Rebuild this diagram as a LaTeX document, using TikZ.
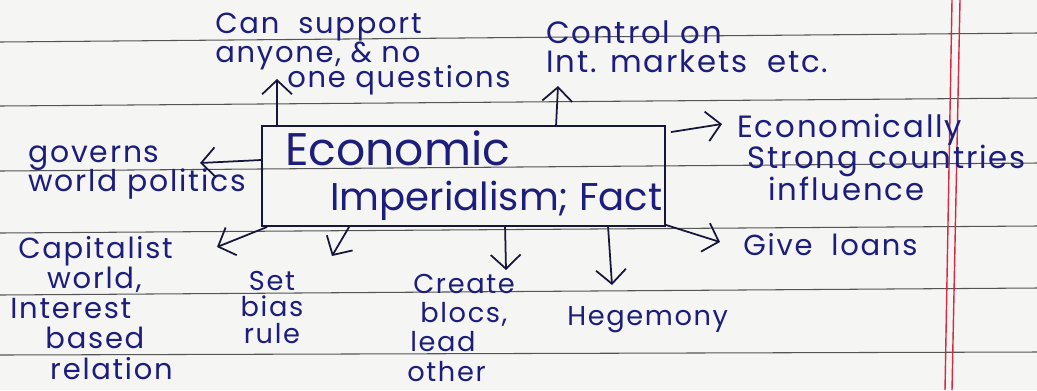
\documentclass[tikz,border=0pt]{standalone}
\usepackage{fontspec}
\setmainfont{Poppins}
\newfontfamily\loose{Poppins}[LetterSpace=6]
\usetikzlibrary{arrows.meta,calc}
\definecolor{pg}{HTML}{f5f5f3}
\definecolor{rl}{HTML}{555555}
\definecolor{mg}{HTML}{d42a44}
\definecolor{ink}{HTML}{1d1d7c}
\definecolor{bx}{HTML}{16163a}
% font size with a fixed line pitch
\newcommand\handsize[2]{\loose\fontsize{#1}{#2}\selectfont\lineskiplimit=-40pt\lineskip=0pt}

\tikzset{
  hand/.style={text=ink, inner sep=0pt, align=left, anchor=base west},
  arr/.style={draw=bx, line width=1pt, -{Straight Barb[length=8pt,width=17pt]}},
}

\begin{document}
\begin{tikzpicture}[x=0.02cm,y=-0.02cm]
  % Page and ruling
  \fill[pg] (0,0) rectangle (1037,390);
  \useasboundingbox (0,0) rectangle (1037,390);
  \foreach \a/\b in {42/33,106/98,171/163,233/226,295/288,355/352} {
    \draw[rl,line width=0.6pt] (0,\a) -- (1037,\b);
  }
  \draw[mg,line width=0.8pt] (952,0) -- (945,390);
  \draw[mg,line width=0.8pt] (960,0) -- (952,390);

  % Central box
  \node[draw=bx,line width=1.1pt,minimum width=8.06cm,minimum height=2cm,inner sep=0pt] (core) at (463.5,176) {};
  \node[hand,font=\fontsize{26}{26}\selectfont] (econ) at (285,165) {Economic};
  \node[hand,font=\fontsize{22}{22}\selectfont] (imp) at (330,210) {Imperialism; Fact};

  % Labels round the box (base = last line)
  \node[hand,font=\handsize{16.5}{14.2}] (supp) at (215,87)
    {Can \ support\\[2pt]anyone, \& no\\\hspace*{41pt}one questions};
  \node[hand,font=\handsize{17.5}{16.4}] (ctrl) at (546,72)
    {Control on\\Int. markets \ etc.};
  \node[hand,font=\handsize{17.5}{17.8}] (strong) at (737,200)
    {Economically\\\hspace*{6pt}Strong countries\\\hspace*{17.6pt}influence};
  \node[hand,font=\handsize{17}{16}] (gov) at (28,191)
    {governs\\world politics};
  \node[hand,font=\handsize{16.5}{17.2}] (cap) at (10,379)
    {\hspace*{4.5pt}Capitalist\\\hspace*{21pt}world,\\Interest\\\hspace*{20pt}based\\\hspace*{22.7pt}relation};
  \node[hand,font=\handsize{15.5}{15},align=center,anchor=base] (bias) at (272,343)
    {Set\\bias\\rule};
  \node[hand,font=\handsize{15.5}{16.6}] (bloc) at (407,381)
    {\hspace*{3.4pt}Create\\\hspace*{7.4pt}blocs,\\\hspace*{1.7pt}lead\\other};
  \node[hand,font=\handsize{15.5}{18}] (hegem) at (567,325) {Hegemony};
  \node[hand,font=\handsize{16.5}{18}] (loans) at (743,255) {Give \ loans};

  % Connectors
  \draw[arr] ($(core.north west)+(16,0)$) -- ($(supp.base west)+(62,-8)$);
  \draw[arr] ($(core.north west)+(295,0)$) -- ($(ctrl.base west)+(12,14)$);
  \draw[arr] ($(core.north east)+(5,7)$) -- ($(strong.base west)+(-15,-76)$);
  \draw[arr] ($(core.west)+(0,-16)$) -- ($(gov.base west)+(172,-28)$);
  \draw[arr] ($(core.south west)+(6,0)$) -- ($(cap.base west)+(207,-132)$);
  \draw[arr] ($(core.south west)+(88,0)$) -- ($(bias.base)+(60,-87)$);
  \draw[arr] ($(core.south west)+(244,0)$) -- ($(bloc.base west)+(99,-111)$);
  \draw[arr] ($(core.south west)+(347,0)$) -- ($(hegem.base west)+(45,-40)$);
  \draw[arr] ($(core.south east)+(0,-2)$) -- ($(loans.base west)+(-23,-13)$);
\end{tikzpicture}
\end{document}
